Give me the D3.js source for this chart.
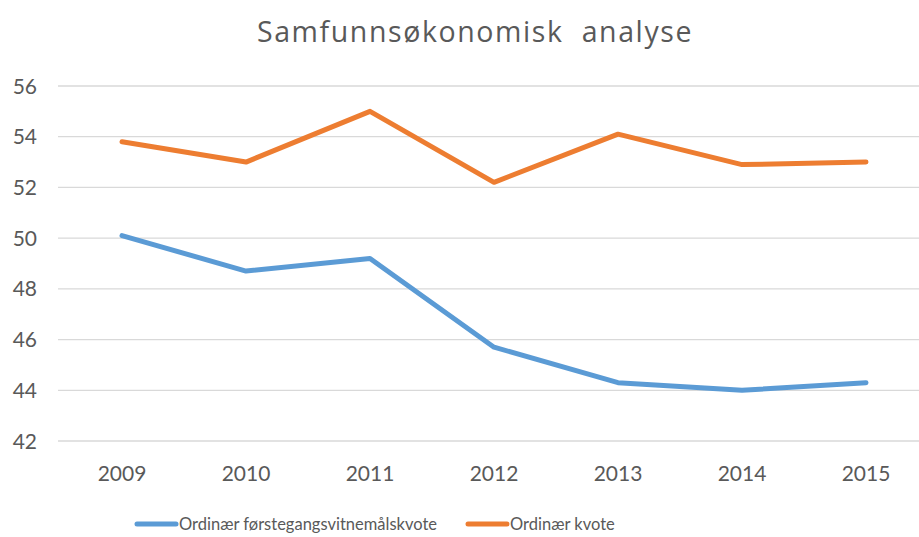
<!DOCTYPE html>
<html>
<head>
<meta charset="utf-8">
<script src="https://cdn.jsdelivr.net/npm/d3@7"></script>
<style>
  body { margin: 0; background: #fff; }
  svg { display: block; font-family: Lato, "Open Sans", sans-serif; }
</style>
</head>
<body>
<svg id="chart"></svg>
<script>
// data
const years = ['2009', '2010', '2011', '2012', '2013', '2014', '2015'];
const forstegang = [50.1, 48.7, 49.2, 45.7, 44.3, 44.0, 44.3];
const ordinaer = [53.8, 53.0, 55.0, 52.2, 54.1, 52.9, 53.0];
const yTicks = [42, 44, 46, 48, 50, 52, 54, 56];
const seriesNames = ['Ordinær førstegangsvitnemålskvote', 'Ordinær kvote'];

const width = 919, height = 537;
const svg = d3.select('#chart').attr('width', width).attr('height', height);

const x = d3.scaleBand().domain(years).range([60, 928]);
const y = d3.scaleLinear().domain([42, 56]).range([441, 86]);

// title
svg.append('text')
  .attr('x', 475).attr('y', 42)
  .attr('text-anchor', 'middle')
  .style('font-family', '"Open Sans", sans-serif')
  .style('font-size', '28.5px')
  .style('letter-spacing', '1.6px')
  .style('white-space', 'pre')
  .style('fill', '#595959')
  .text('Samfunnsøkonomisk  analyse');

// gridlines
svg.append('g').selectAll('line')
  .data(yTicks)
  .enter().append('line')
  .attr('x1', 58).attr('x2', 928)
  .attr('y1', d => y(d)).attr('y2', d => y(d))
  .style('stroke', '#d9d9d9')
  .style('stroke-width', 1.3);

// y labels
svg.append('g').selectAll('text')
  .data(yTicks)
  .enter().append('text')
  .attr('x', 37).attr('y', d => y(d))
  .attr('dy', '0.36em')
  .attr('text-anchor', 'end')
  .style('font-size', '21px')
  .style('fill', '#595959')
  .text(d => d);

// x labels
svg.append('g').selectAll('text')
  .data(years)
  .enter().append('text')
  .attr('x', d => x(d) + x.bandwidth() / 2)
  .attr('y', 481)
  .attr('text-anchor', 'middle')
  .style('font-size', '21px')
  .style('fill', '#595959')
  .text(d => d);

const line = d3.line()
  .x((d, i) => x(years[i]) + x.bandwidth() / 2)
  .y(d => y(d));

const colors = ['#5B9BD5', '#ED7D31'];
[forstegang, ordinaer].forEach((s, i) => {
  svg.append('path')
    .datum(s)
    .attr('d', line)
    .style('fill', 'none')
    .style('stroke', colors[i])
    .style('stroke-width', 5)
    .style('stroke-linecap', 'round')
    .style('stroke-linejoin', 'round');
});

// legend
const legendX = [137, 468];
const legend = svg.append('g').selectAll('g')
  .data(seriesNames)
  .enter().append('g')
  .attr('transform', (d, i) => `translate(${legendX[i]},524)`);
legend.append('line')
  .attr('x1', 0).attr('x2', 39)
  .style('stroke', (d, i) => colors[i])
  .style('stroke-width', 5)
  .style('stroke-linecap', 'round');
legend.append('text')
  .attr('x', 42).attr('dy', '0.36em')
  .style('font-size', '16.5px')
  .style('fill', '#595959')
  .text(d => d);
</script>
</body>
</html>
